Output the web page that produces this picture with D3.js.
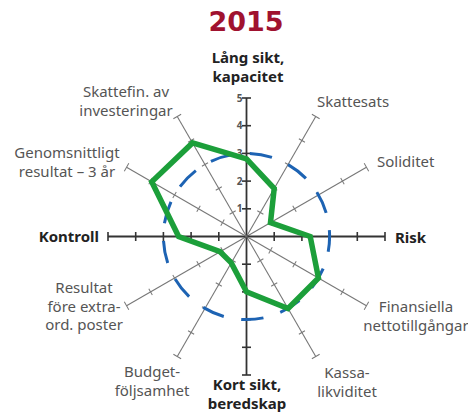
<!DOCTYPE html>
<html>
<head>
<meta charset="utf-8">
<script src="https://cdn.jsdelivr.net/npm/d3@7"></script>
<style>
  html, body { margin: 0; padding: 0; background: #fff; }
  svg { display: block; }
  text { font-family: "Noto Sans", "Open Sans", sans-serif; }
</style>
</head>
<body>
<svg id="chart" width="468" height="418"></svg>
<script>
// Axlar medurs från kl 12
const axisLabels = [
  ['Lång sikt,', 'kapacitet'],
  ['Skattesats'],
  ['Soliditet'],
  ['Risk'],
  ['Finansiella', 'nettotillgångar'],
  ['Kassa-', 'likviditet'],
  ['Kort sikt,', 'beredskap'],
  ['Budget-', 'följsamhet'],
  ['Resultat', 'före extra-', 'ord. poster'],
  ['Kontroll'],
  ['Genomsnittligt', 'resultat – 3 år'],
  ['Skattefin. av', 'investeringar']
];
const mainAxes = [0, 3, 6, 9]; // fetstilta huvudaxlar
const values2015 = [2.8, 2.0, 1.0, 2.3, 3.0, 3.0, 2.0, 1.1, 1.1, 2.45, 3.95, 3.9];
const referenceLevel = 3;
const tickValues = [1, 2, 3, 4, 5];
const chartTitle = '2015';

// placering av etiketter (x, y för första raden, ankare)
const labelLayout = [
  { x: 248, y: 63, anchor: 'middle' },
  { x: 353, y: 107, anchor: 'middle' },
  { x: 377, y: 167, anchor: 'start' },
  { x: 395, y: 243, anchor: 'start' },
  { x: 416, y: 312, anchor: 'middle' },
  { x: 347, y: 378, anchor: 'middle' },
  { x: 247, y: 390, anchor: 'middle' },
  { x: 152, y: 377, anchor: 'middle' },
  { x: 84, y: 293, anchor: 'middle' },
  { x: 99, y: 242, anchor: 'end' },
  { x: 67, y: 158, anchor: 'middle' },
  { x: 126, y: 97, anchor: 'middle' }
];

const cx = 246.5;
const cy = 236.5;
const svg = d3.select('#chart');

svg.append('text')
  .attr('x', 246)
  .attr('y', 31)
  .attr('text-anchor', 'middle')
  .style('font-family', '"DejaVu Sans", sans-serif')
  .style('font-weight', 'bold')
  .style('font-size', '27px')
  .attr('fill', '#a0122f')
  .text(chartTitle);

const r = d3.scaleLinear().domain([0, 5]).range([0, 138.5]);
const angle = d3.scaleLinear().domain([0, axisLabels.length]).range([0, 2 * Math.PI]);

const g = svg.append('g').attr('transform', `translate(${cx},${cy})`);

// axlar med tickmarkeringar
axisLabels.forEach((label, i) => {
  const isMain = mainAxes.includes(i);
  const deg = angle(i) * 180 / Math.PI;
  const axis = g.append('g').attr('transform', `rotate(${deg})`);
  const stroke = isMain ? '#333' : '#777';
  const w = isMain ? 1.8 : 1.1;

  axis.append('line')
    .attr('x1', 0).attr('y1', 0)
    .attr('x2', 0).attr('y2', -r(5))
    .attr('stroke', stroke)
    .attr('stroke-width', w);

  tickValues.forEach((t) => {
    const half = t === 5 ? 4.5 : (isMain ? 4.5 : 3.5);
    axis.append('line')
      .attr('x1', -half).attr('x2', half)
      .attr('y1', -r(t)).attr('y2', -r(t))
      .attr('stroke', stroke)
      .attr('stroke-width', isMain ? 1.6 : 1);
  });
});

// tickvärden på lodräta axeln
g.selectAll('text.tick')
  .data(tickValues)
  .join('text')
  .attr('class', 'tick')
  .attr('x', -4)
  .attr('y', (d) => -r(d))
  .attr('dy', '0.35em')
  .attr('text-anchor', 'end')
  .style('font-size', '10px')
  .style('font-weight', 'bold')
  .attr('fill', '#555')
  .text((d) => d);

// referensnivå (streckad cirkel), 13 streck runt varvet
const circumference = 2 * Math.PI * r(referenceLevel);
const period = circumference / 13;
g.append('circle')
  .attr('r', r(referenceLevel))
  .attr('fill', 'none')
  .attr('stroke', '#1d63b3')
  .attr('stroke-width', 3)
  .attr('stroke-dasharray', `${period * 0.56} ${period * 0.44}`)
  .attr('stroke-dashoffset', circumference * 5 / 360);

// 2015 års värden
const radarLine = d3.lineRadial()
  .angle((d, i) => angle(i))
  .radius((d) => r(d))
  .curve(d3.curveLinearClosed);

g.append('path')
  .datum(values2015)
  .attr('d', radarLine)
  .attr('fill', 'none')
  .attr('stroke', '#1c9f3a')
  .attr('stroke-width', 5.5)
  .attr('stroke-linejoin', 'miter');

// etiketter
axisLabels.forEach((lines, i) => {
  const pos = labelLayout[i];
  const isMain = mainAxes.includes(i);
  const text = svg.append('text')
    .attr('x', pos.x)
    .attr('y', pos.y)
    .attr('text-anchor', pos.anchor)
    .style('font-size', '15px')
    .style('font-weight', isMain ? 'bold' : 'normal')
    .attr('fill', isMain ? '#222' : '#555');

  lines.forEach((line, j) => {
    text.append('tspan')
      .attr('x', pos.x)
      .attr('dy', j === 0 ? 0 : 18.5)
      .text(line);
  });
});
</script>
</body>
</html>
